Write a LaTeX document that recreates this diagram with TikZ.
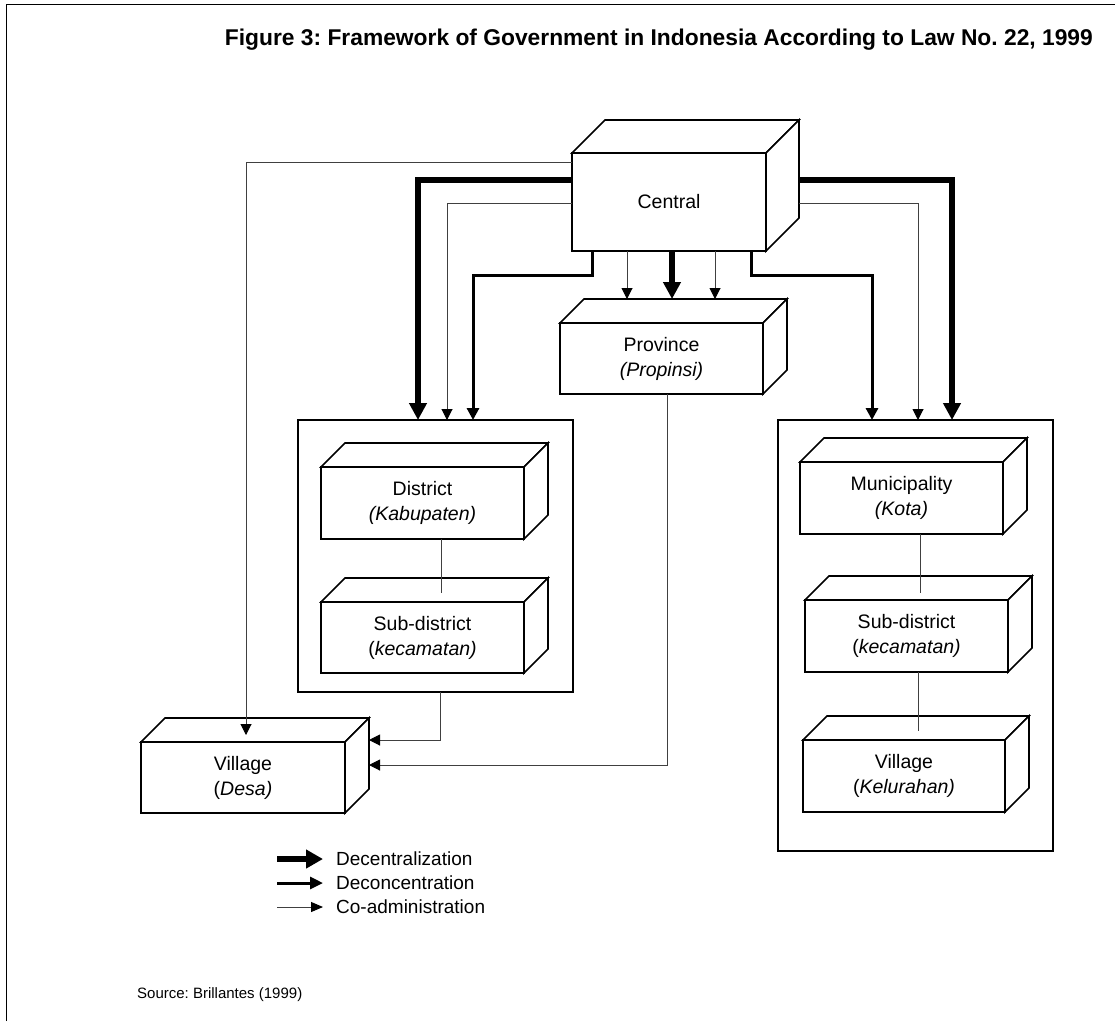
\documentclass[tikz,border=0pt]{standalone}
\usepackage{fontspec}
\setmainfont{Liberation Sans}
\usetikzlibrary{arrows.meta}
\frenchspacing

% draw the top and right faces of a box whose front face is node #1, depth #2
\newcommand{\cubefaces}[2]{%
  \draw[boxline] (#1.north west) -- ([xshift=#2pt,yshift=#2pt]#1.north west)
     -- ([xshift=#2pt,yshift=#2pt]#1.north east) -- (#1.north east) -- cycle;
  \draw[boxline] (#1.north east) -- ([xshift=#2pt,yshift=#2pt]#1.north east)
     -- ([xshift=#2pt,yshift=#2pt]#1.south east) -- (#1.south east) -- cycle;
}

\begin{document}
\begin{tikzpicture}[x=1pt,y=-1pt,
  boxline/.style={draw, line width=1.6pt, fill=white, line join=miter},
  face/.style={boxline, outer sep=0pt, inner sep=0pt, align=center,
               font=\fontsize{19.5}{25}\selectfont},
  group/.style={draw, line width=1.6pt, outer sep=0pt, inner sep=0pt},
  decen/.style={line width=5.5pt, -{Triangle[length=17pt,width=17pt]}},
  deconc/.style={line width=3pt, -{Triangle[length=12pt,width=12pt]}},
  coadm/.style={line width=1pt, draw=black!75, -{Triangle[length=11pt,width=11pt,color=black]}},
  link/.style={line width=1pt, draw=black!75},
  legtext/.style={anchor=west, inner sep=0pt, font=\fontsize{19}{23}\selectfont},
]
\useasboundingbox (0,0) rectangle (1115,1021);

% frame
\draw[line width=1.8pt] (6.5,1021) -- (6.5,4.5) -- (1115,4.5);

% title
\node[anchor=base east, inner sep=0pt, font=\bfseries\fontsize{22.8}{27}\selectfont] (title)
  at (1093,45) {Figure 3: Framework of Government in Indonesia According to Law No. 22, 1999};

% group frames
\node[group, minimum width=275pt, minimum height=272pt] (grpL) at (435.5,556) {};
\node[group, minimum width=275pt, minimum height=431pt] (grpR) at (915.5,635.5) {};

% boxes
\node[face, minimum width=194pt, minimum height=98pt] (central) at (669,202) {Central};
\cubefaces{central}{33}
\node[face, minimum width=203pt, minimum height=71pt] (prov) at (661.5,358.5) {Province\\\textit{(Propinsi)}};
\cubefaces{prov}{24}
\node[face, minimum width=203pt, minimum height=72pt] (dist) at (422.5,503) {District\\\textit{(Kabupaten)}};
\cubefaces{dist}{24}
\node[face, minimum width=203pt, minimum height=71pt] (subL) at (422.5,637.5) {Sub-district\\(\textit{kecamatan)}};
\cubefaces{subL}{24}
\node[face, minimum width=204pt, minimum height=71pt] (villL) at (243,777.5) {Village\\(\textit{Desa)}};
\cubefaces{villL}{24}
\node[face, minimum width=203pt, minimum height=72pt] (muni) at (901.5,498) {Municipality\\\textit{(Kota)}};
\cubefaces{muni}{24}
\node[face, minimum width=203pt, minimum height=72pt] (subR) at (906.5,636) {Sub-district\\(\textit{kecamatan)}};
\cubefaces{subR}{24}
\node[face, minimum width=202pt, minimum height=72pt] (villR) at (904,776) {Village\\(\textit{Kelurahan)}};
\cubefaces{villR}{24}

% reference levels and columns
\coordinate (yTop)  at (0,162);
\coordinate (yDec)  at (0,180);
\coordinate (yCo)   at (0,203);
\coordinate (yDeco) at (0,275);
\coordinate (yInL)  at (0,740);
\coordinate (yInP)  at (0,765);
\coordinate (xL1) at (418,0);
\coordinate (xL2) at (447,0);
\coordinate (xL3) at (473,0);
\coordinate (xM1) at (592,0);
\coordinate (xP1) at (627,0);
\coordinate (xP2) at (672,0);
\coordinate (xP3) at (715,0);
\coordinate (xM2) at (751,0);
\coordinate (xR1) at (872,0);
\coordinate (xR2) at (918,0);
\coordinate (xR3) at (952,0);
\coordinate (xPd) at (667,0);
\coordinate (xGd) at (440,0);
\coordinate (xD)  at (441,0);
\coordinate (xMu) at (920,0);
\coordinate (xS)  at (918,0);
\coordinate (cBack)    at ([xshift=33pt]central.east);
\coordinate (provTop)  at ([yshift=24pt]prov.north);
\coordinate (villBackR) at ([xshift=24pt]villL.east);
\coordinate (villTopIn) at (246,735);
\coordinate (subLTop)  at ([yshift=9pt]subL.north);
\coordinate (subRTop)  at ([yshift=7pt]subR.north);
\coordinate (villRTop) at ([yshift=9pt]villR.north);

% central to the district group
\draw[decen]  (central.west |- yDec) -| (grpL.north -| xL1);
\draw[coadm]  (central.west |- yCo)  -| (grpL.north -| xL2);
\draw[deconc] (central.south -| xM1) -- (yDeco -| xM1) -| (grpL.north -| xL3);

% central to the municipality group
\draw[decen]  (cBack |- yDec) -| (grpR.north -| xR3);
\draw[coadm]  (cBack |- yCo)  -| (grpR.north -| xR2);
\draw[deconc] (central.south -| xM2) -- (yDeco -| xM2) -| (grpR.north -| xR1);

% central to province
\draw[coadm] (central.south -| xP1) -- (provTop -| xP1);
\draw[decen] (central.south -| xP2) -- (provTop -| xP2);
\draw[coadm] (central.south -| xP3) -- (provTop -| xP3);

% to the village (Desa)
\draw[coadm] (central.west |- yTop) -| (villTopIn);
\draw[coadm] (grpL.south -| xGd) |- (villBackR |- yInL);
\draw[coadm] (prov.south -| xPd) |- (villBackR |- yInP);

% links inside the groups
\draw[link] (dist.south -| xD) -- (subLTop -| xD);
\draw[link] (muni.south -| xMu) -- (subRTop -| xMu);
\draw[link] (subR.south -| xS) -- (villRTop -| xS);

% legend
\node[legtext] (lg1) at (336,859) {Decentralization};
\node[legtext] (lg2) at (336,883) {Deconcentration};
\node[legtext] (lg3) at (336,907) {Co-administration};
\draw[line width=5.5pt, -{Triangle[length=17pt,width=18pt]}] ([xshift=-59pt]lg1.west) -- ([xshift=-13pt]lg1.west);
\draw[line width=3pt, -{Triangle[length=13pt,width=12pt]}] ([xshift=-59pt]lg2.west) -- ([xshift=-13pt]lg2.west);
\draw[line width=1pt, draw=black!75, -{Triangle[length=12pt,width=10pt,color=black]}] ([xshift=-59pt]lg3.west) -- ([xshift=-13pt]lg3.west);

% source
\node[anchor=base west, inner sep=0pt, font=\fontsize{15}{18}\selectfont] (src) at (137,998) {Source: Brillantes (1999)};
\end{tikzpicture}
\end{document}
